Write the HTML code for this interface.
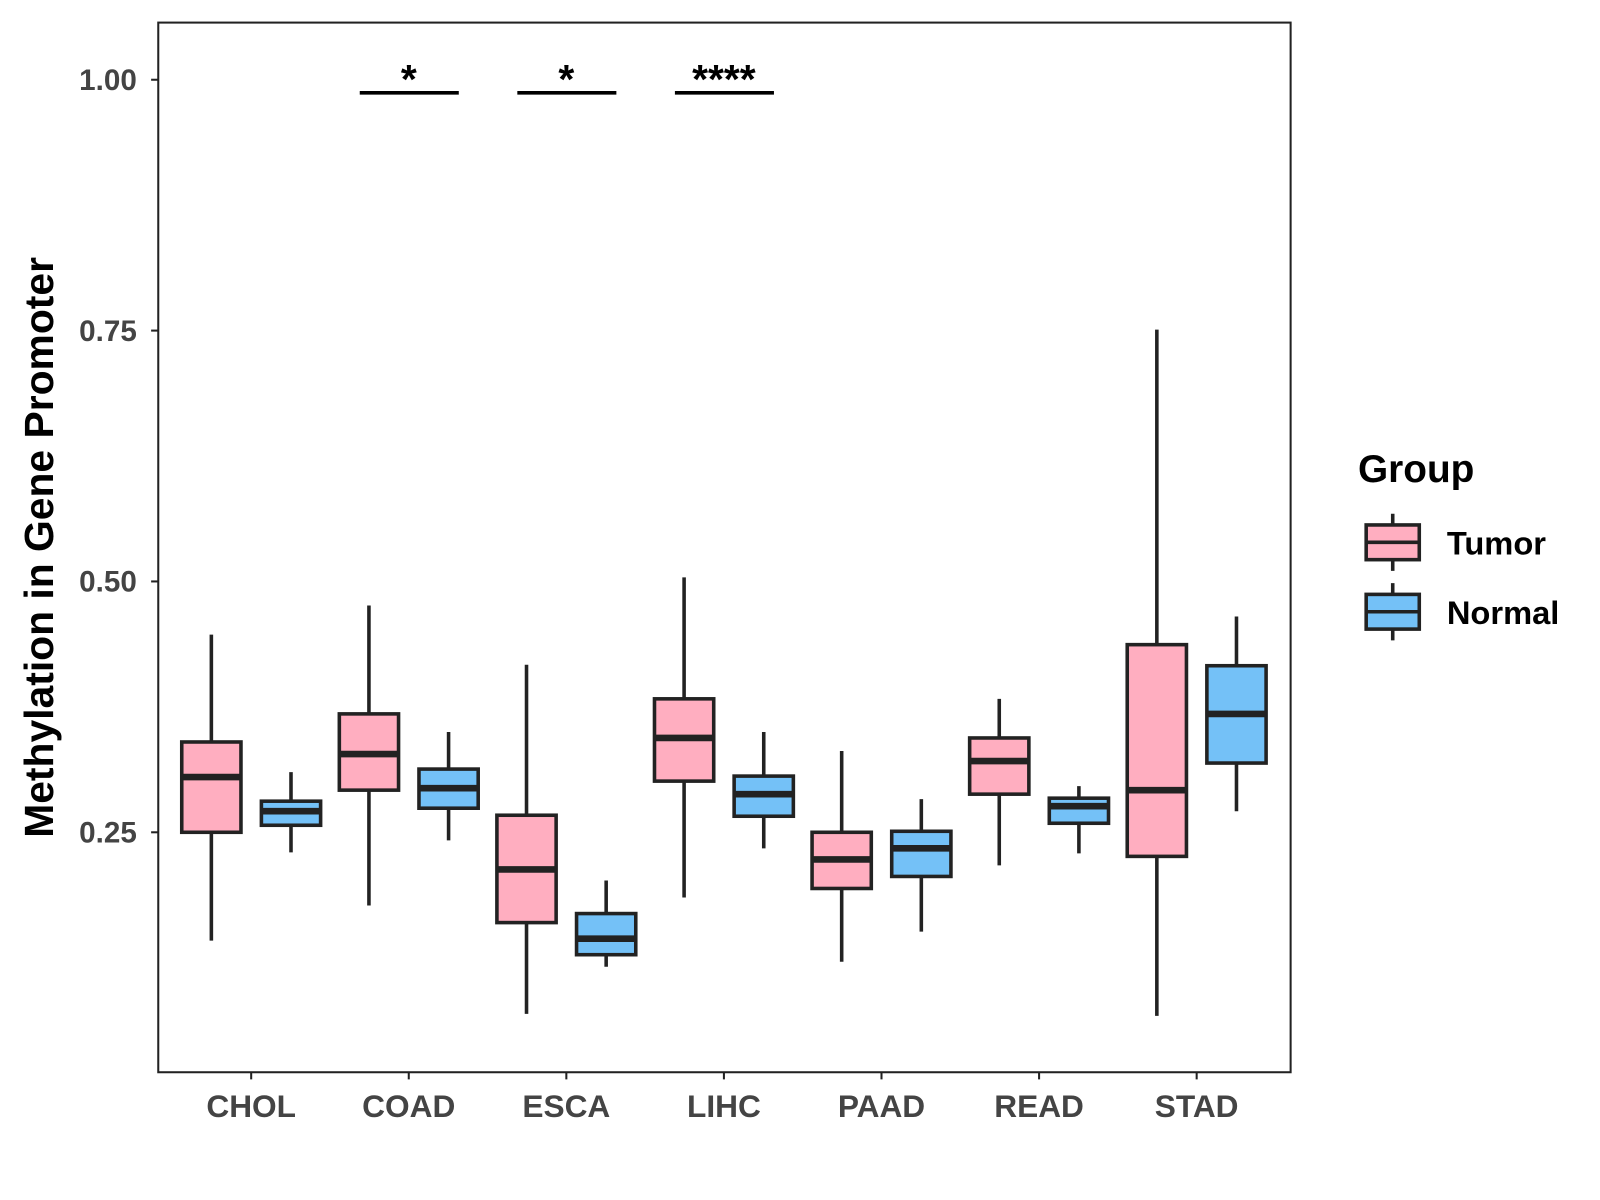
<!DOCTYPE html>
<html><head><meta charset="utf-8"><style>
body{margin:0;background:#fff}
svg{display:block;font-family:"Liberation Sans",Arial,sans-serif}
</style></head><body>
<svg id="chart" width="1600" height="1200" viewBox="0 0 1567 1175">
<rect x="155" y="22" width="1109" height="1028" fill="#fff" stroke="#222" stroke-width="2"/>
<g id="marks"></g>
<text transform="translate(52,536) rotate(-90)" text-anchor="middle" font-size="40" font-weight="bold" fill="#000">Methylation in Gene Promoter</text>
<g>
<text x="1330" y="472" font-size="38" font-weight="bold">Group</text>
<g>
<line x1="1364" y1="503" x2="1364" y2="559" stroke="#222" stroke-width="3.5"/>
<rect x="1338" y="514" width="52" height="34" fill="#FFAEC0" stroke="#222" stroke-width="3.5"/>
<line x1="1338" y1="531" x2="1390" y2="531" stroke="#222" stroke-width="3.5"/>
<text x="1417" y="543" font-size="32" font-weight="bold">Tumor</text></g>
<g>
<line x1="1364" y1="571" x2="1364" y2="627" stroke="#222" stroke-width="3.5"/>
<rect x="1338" y="582" width="52" height="34" fill="#74C1F7" stroke="#222" stroke-width="3.5"/>
<line x1="1338" y1="599" x2="1390" y2="599" stroke="#222" stroke-width="3.5"/>
<text x="1417" y="611" font-size="32" font-weight="bold">Normal</text></g>
</g>
</svg>
<script>
const categories=["CHOL","COAD","ESCA","LIHC","PAAD","READ","STAD"];
// [whiskerLow, q1, median, q3, whiskerHigh]
const tumorStats=[[0.142,0.25,0.305,0.340,0.447],[0.177,0.292,0.328,0.368,0.476],[0.069,0.160,0.213,0.267,0.417],[0.185,0.301,0.344,0.383,0.504],[0.121,0.194,0.223,0.25,0.331],[0.217,0.288,0.321,0.344,0.383],[0.067,0.226,0.292,0.437,0.751]];
const normalStats=[[0.230,0.257,0.271,0.281,0.310],[0.242,0.274,0.294,0.313,0.350],[0.116,0.128,0.144,0.169,0.202],[0.234,0.266,0.288,0.306,0.350],[0.151,0.206,0.234,0.251,0.283],[0.229,0.259,0.276,0.284,0.296],[0.271,0.319,0.368,0.416,0.465]];
const yTicks=[0.25,0.50,0.75,1.00];
const yTickLabels=["0.25","0.50","0.75","1.00"];
const sigCategories=["COAD","ESCA","LIHC"];
const sigLabels=["*","*","****"];
const sigLevel=0.987;

const NS="http://www.w3.org/2000/svg";
const g=document.getElementById('marks');
function y(v){return 815-(v-0.25)*982.7;}
function x(i){return 246+i*154.33;}
function el(t,a,p){const e=document.createElementNS(NS,t);for(const k in a)e.setAttribute(k,a[k]);(p||g).appendChild(e);return e;}

yTicks.forEach((t,i)=>{
  const tk=el('line',{x1:148,x2:155,y1:y(t),y2:y(t),stroke:'#222','stroke-width':2});
  
  
  const tl=el('text',{x:134,y:y(t)+10,'text-anchor':'end','font-size':29,'font-weight':'bold',fill:'#444'});
  tl.textContent=yTickLabels[i];
  
  
});
categories.forEach((c,i)=>{
  const tk=el('line',{x1:x(i),x2:x(i),y1:1050,y2:1057,stroke:'#222','stroke-width':2});
  
  
  const tl=el('text',{x:x(i),y:1094,'text-anchor':'middle','font-size':31,'font-weight':'bold',fill:'#444'});
  tl.textContent=c;
  
  
});
function box(cx,s,fill,name){
  const grp=el('g',{});
  
  
  el('line',{x1:cx,x2:cx,y1:y(s[4]),y2:y(s[0]),stroke:'#222','stroke-width':3.5},grp);
  el('rect',{x:cx-29,y:y(s[3]),width:58,height:y(s[1])-y(s[3]),fill:fill,stroke:'#222','stroke-width':3.5},grp);
  el('line',{x1:cx-29,x2:cx+29,y1:y(s[2]),y2:y(s[2]),stroke:'#222','stroke-width':6.5},grp);
}
categories.forEach((c,i)=>{
  box(x(i)-39,tumorStats[i],'#FFAEC0','box-'+c.toLowerCase()+'-tumor');
  box(x(i)+39,normalStats[i],'#74C1F7','box-'+c.toLowerCase()+'-normal');
});
sigCategories.forEach((c,k)=>{
  const i=categories.indexOf(c);
  const ln=el('line',{x1:x(i)-48,x2:x(i)+49,y1:y(sigLevel),y2:y(sigLevel),stroke:'#000','stroke-width':3.5});
  
  
  const t=el('text',{x:x(i),y:y(sigLevel)+0,'text-anchor':'middle','font-size':40,'font-weight':'bold',fill:'#000'});
  t.textContent=sigLabels[k];
  
  
});
</script>
</body></html>
